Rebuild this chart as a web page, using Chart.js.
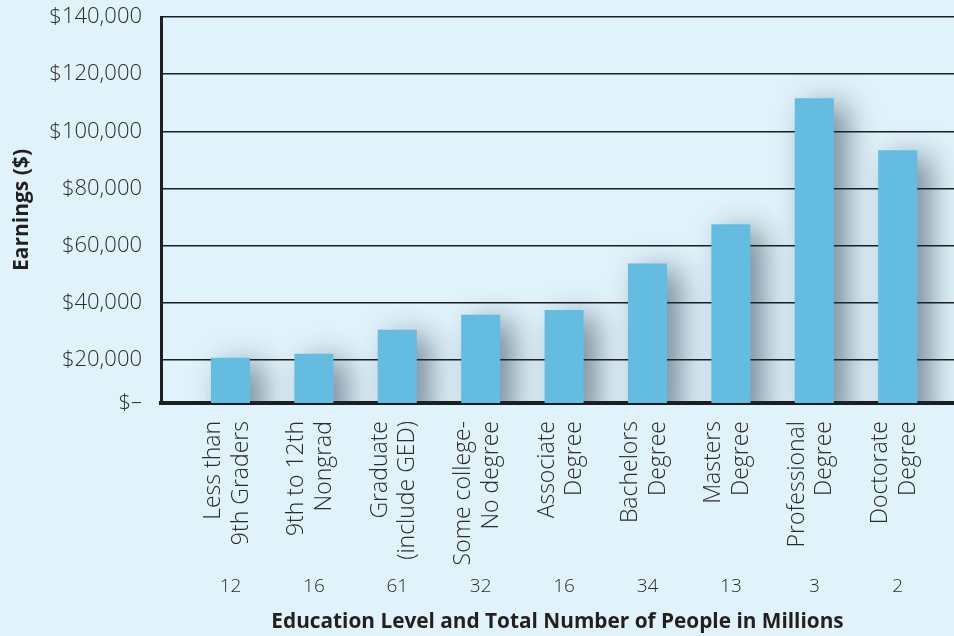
<!DOCTYPE html>
<html>
<head>
<meta charset="utf-8">
<script src="https://cdn.jsdelivr.net/npm/chart.js@4"></script>
<style>
  html, body { margin: 0; padding: 0; background: #e0f2fa; }
  #contenedor { width: 954px; height: 636px; position: relative; }
</style>
</head>
<body>
<div id="contenedor"><canvas id="graficoIngresos"></canvas></div>
<script>
// ============ Datos =========================
var niveles = [
  ["Less than", "9th Graders"],
  ["9th to 12th", "Nongrad"],
  ["Graduate", "(include GED)"],
  ["Some college-", "No degree"],
  ["Associate", "Degree"],
  ["Bachelors", "Degree"],
  ["Masters", "Degree"],
  ["Professional", "Degree"],
  ["Doctorate", "Degree"]
];
var ingresos = [20800, 22200, 30600, 35900, 37500, 53800, 67500, 111600, 93400];
var personasMillones = ["12", "16", "61", "32", "16", "34", "13", "3", "2"];
var ticksY = [5000, 20000, 40000, 60000, 80000, 100000, 120000, 140000];

var colorTexto = "#2b2b2b";

// ============ Sombra de las barras =========================
var sombraBarras = {
  id: "sombraBarras",
  beforeDatasetsDraw(chart) {
    const ctx = chart.ctx;
    ctx.save();
    ctx.shadowColor = "rgba(30, 50, 70, 0.55)";
    ctx.shadowBlur = 30;
    ctx.shadowOffsetX = 13;
    ctx.shadowOffsetY = 7;
  },
  afterDatasetsDraw(chart) {
    chart.ctx.restore();
  }
};

// sin relleno automatico de las escalas
function sinRelleno(s) {
  s.paddingLeft = 0;
  s.paddingRight = 0;
  s.paddingTop = 0;
  s.paddingBottom = 0;
}

new Chart(document.getElementById("graficoIngresos"), {
  type: "bar",
  data: {
    datasets: [{
      label: "Earnings",
      data: ingresos.map((v, i) => ({ x: i, y: v })),
      backgroundColor: "#64bce0",
      borderWidth: 0,
      barPercentage: 0.9,
      categoryPercentage: 0.52
    }]
  },
  options: {
    responsive: true,
    maintainAspectRatio: false,
    animation: false,
    layout: { padding: { top: 17, right: 0, bottom: 0, left: 0 } },
    plugins: {
      legend: { display: false },
      tooltip: { enabled: false }
    },
    scales: {
      x: {
        type: "linear",
        position: "bottom",
        offset: false,
        weight: 0,
        min: -0.833,
        max: 8.675,
        afterBuildTicks: s => { s.ticks = niveles.map((_, i) => ({ value: i })); },
        afterFit: s => { s.height = 162; sinRelleno(s); },
        grid: { display: false, drawTicks: false, offset: false },
        border: { display: true, color: "#1c1d21", width: 4 },
        ticks: {
          autoSkip: false,
          minRotation: 90,
          maxRotation: 90,
          padding: 18,
          labelOffset: -17,
          color: colorTexto,
          font: { family: "'Open Sans', sans-serif", size: 23, weight: 300, lineHeight: 1.2 },
          callback: v => niveles[v]
        }
      },
      x2: {
        type: "linear",
        position: "bottom",
        offset: false,
        weight: 1,
        min: -0.833,
        max: 8.675,
        afterBuildTicks: s => { s.ticks = personasMillones.map((_, i) => ({ value: i })); },
        afterFit: s => { s.height = 71; sinRelleno(s); },
        grid: { display: false, drawTicks: false },
        border: { display: false },
        ticks: {
          autoSkip: false,
          maxRotation: 0,
          padding: 10,
          color: colorTexto,
          font: { family: "'Open Sans', sans-serif", size: 19, weight: 300 },
          callback: v => personasMillones[v]
        },
        title: {
          display: true,
          text: "Education Level and Total Number of People in Millions",
          color: "#231f20",
          padding: { top: 6, bottom: 1 },
          font: { family: "'Open Sans', sans-serif", size: 20.8, weight: "bold" }
        }
      },
      y: {
        min: 5000,
        max: 140000,
        afterBuildTicks: s => { s.ticks = ticksY.map(v => ({ value: v })); },
        afterFit: s => { s.width = 161; sinRelleno(s); },
        grid: { color: "#1c1d21", lineWidth: 1.5, drawTicks: false },
        border: { display: true, color: "#231f20", width: 3 },
        ticks: {
          padding: 19,
          color: colorTexto,
          font: { family: "'Open Sans', sans-serif", size: 22, weight: 300 },
          callback: v => v === 5000 ? "$–" : "$" + v.toLocaleString("en-US")
        },
        title: {
          display: true,
          text: "Earnings ($)",
          color: "#231f20",
          padding: { top: 9, bottom: 0 },
          font: { family: "'Open Sans', sans-serif", size: 21, weight: "bold" }
        }
      }
    }
  },
  plugins: [sombraBarras]
});
</script>
</body>
</html>
